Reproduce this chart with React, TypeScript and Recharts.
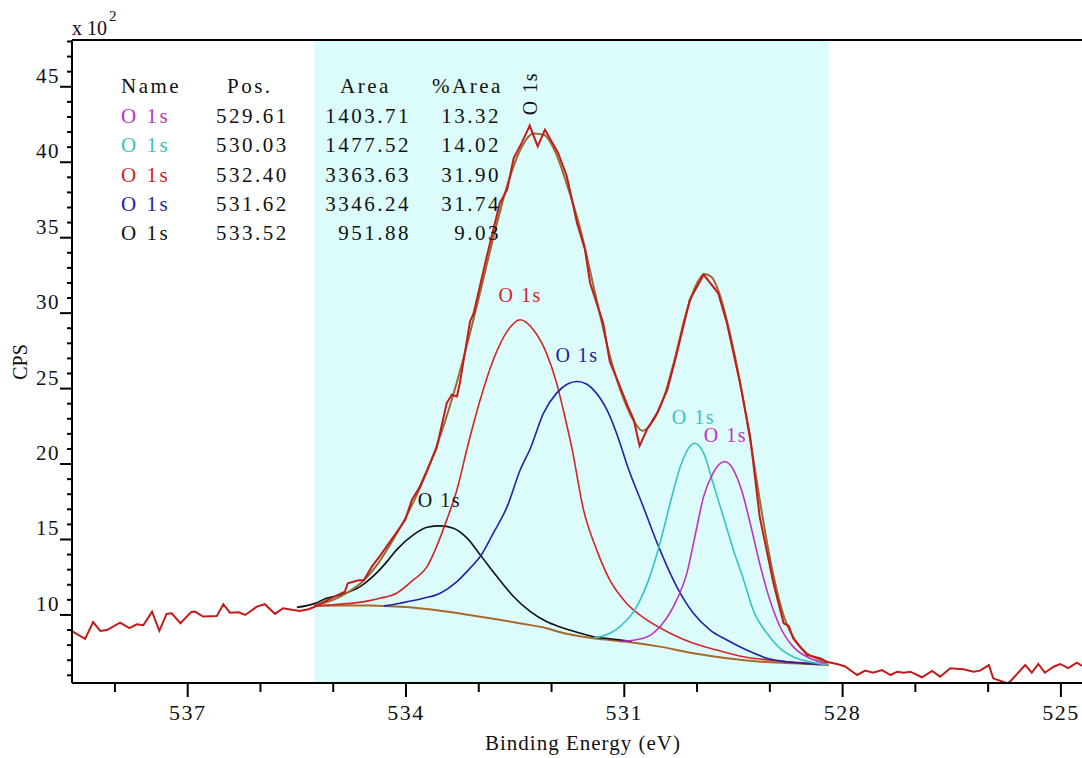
import React from 'react';
import { ComposedChart, Line, XAxis, YAxis, ReferenceArea, ReferenceLine, ReferenceDot } from 'recharts';

const FONT = "'Liberation Serif', 'Times New Roman', serif";

// Binding energy (eV) / CPS (x 10^2) pairs
const rawSpectrum: [number, number][] = [
  [538.58, 8.89], [538.41, 8.41], [538.30, 9.52], [538.20, 8.94], [538.11, 9.0], [537.93, 9.49],
  [537.80, 9.12], [537.70, 9.38], [537.61, 9.32], [537.49, 10.22], [537.39, 8.94], [537.29, 10.07],
  [537.22, 10.11], [537.10, 9.45], [536.95, 10.2], [536.90, 10.22], [536.79, 9.89], [536.60, 9.93],
  [536.51, 10.71], [536.42, 10.15], [536.30, 10.18], [536.21, 10.0], [536.05, 10.55], [535.94, 10.71],
  [535.80, 10.07], [535.69, 10.44], [535.55, 10.33], [535.46, 10.27], [535.34, 10.38], [535.27, 10.51],
  [535.03, 11.1], [534.84, 11.55], [534.80, 12.1], [534.65, 12.3], [534.58, 12.3], [534.47, 13.2],
  [534.36, 13.9], [534.17, 15.19], [534.01, 16.3], [533.92, 17.63], [533.81, 18.5], [533.71, 19.6],
  [533.58, 21.05], [533.44, 24.04], [533.37, 24.59], [533.30, 24.48], [533.26, 25.36], [533.12, 29.45],
  [533.07, 30.0], [532.89, 33.76], [532.71, 37.3], [532.66, 37.74], [532.61, 38.18], [532.52, 40.28],
  [532.41, 41.28], [532.30, 42.43], [532.19, 41.05], [532.09, 42.16], [531.91, 40.62], [531.79, 39.07],
  [531.65, 35.97], [531.54, 34.2], [531.47, 32.0], [531.29, 29.34], [531.20, 26.8], [531.06, 25.14],
  [530.97, 24.04], [530.87, 22.93], [530.79, 21.2], [530.69, 22.27], [530.55, 23.38], [530.41, 24.92],
  [530.30, 26.91], [530.10, 30.89], [529.91, 32.55], [529.71, 31.33], [529.59, 29.34], [529.41, 25.36],
  [529.27, 21.82], [529.14, 16.52], [528.95, 12.1], [528.81, 9.45], [528.74, 9.27], [528.68, 8.45],
  [528.49, 7.35], [528.31, 7.13], [528.22, 6.9], [528.08, 6.75], [527.97, 6.6], [527.80, 6.02],
  [527.69, 6.31], [527.58, 6.17], [527.46, 6.35], [527.34, 6.02], [527.25, 6.24], [527.16, 6.17],
  [527.07, 6.24], [526.91, 5.87], [526.77, 6.29], [526.66, 5.91], [526.52, 6.47], [526.34, 6.4],
  [526.20, 6.24], [526.11, 6.31], [525.99, 6.68], [525.93, 5.8], [525.74, 5.47], [525.70, 5.58],
  [525.49, 6.68], [525.40, 6.17], [525.31, 6.75], [525.22, 6.17], [525.10, 6.57], [525.01, 6.75],
  [524.90, 6.47], [524.78, 6.84], [524.71, 6.62],
];

const envelopeFit: [number, number][] = [
  [535.26, 10.65], [535.0, 11.0], [534.8, 11.5], [534.6, 12.2], [534.4, 13.3], [534.2, 14.8],
  [534.0, 16.5], [533.8, 18.5], [533.6, 20.9], [533.4, 23.8], [533.2, 27.2], [533.0, 31.0],
  [532.8, 35.0], [532.6, 38.6], [532.4, 41.1], [532.25, 41.9], [532.1, 41.8], [531.95, 40.7],
  [531.8, 38.7], [531.6, 35.5], [531.4, 31.3], [531.2, 27.2], [531.0, 24.2], [530.85, 22.7],
  [530.75, 22.2], [530.6, 22.9], [530.45, 24.5], [530.3, 27.1], [530.15, 30.0], [530.0, 32.0],
  [529.9, 32.6], [529.8, 32.4], [529.7, 31.4], [529.55, 28.7], [529.4, 25.2], [529.25, 21.0],
  [529.1, 16.5], [528.95, 12.6], [528.8, 9.8], [528.65, 8.3], [528.5, 7.5], [528.35, 7.1], [528.19, 6.85],
];

const backgroundFit: [number, number][] = [
  [535.26, 10.6], [534.9, 10.62], [534.5, 10.62], [534.3, 10.6], [534.0, 10.52], [533.6, 10.32],
  [533.2, 10.05], [532.8, 9.75], [532.4, 9.42], [532.07, 9.12], [531.88, 8.85], [531.42, 8.45],
  [530.97, 8.23], [530.51, 7.9], [530.05, 7.46], [529.59, 7.13], [529.13, 6.9], [528.68, 6.8], [528.19, 6.68],
];

const peakBlack: [number, number][] = [
  [535.5, 10.5], [535.26, 10.75], [535.09, 11.1], [534.91, 11.33], [534.63, 11.88], [534.40, 12.8],
  [534.25, 13.6], [534.13, 14.31], [533.90, 15.3], [533.71, 15.81], [533.53, 15.9], [533.35, 15.75],
  [533.16, 15.09], [532.98, 13.98], [532.75, 12.54], [532.52, 11.21], [532.29, 10.22], [532.07, 9.56],
  [531.88, 9.2], [531.65, 8.85], [531.42, 8.56], [531.2, 8.42], [530.9, 8.26],
];

const peakRed: [number, number][] = [
  [535.26, 10.62], [535.0, 10.68], [534.7, 10.8], [534.5, 10.95], [534.36, 11.1], [534.13, 11.44],
  [533.90, 12.32], [533.71, 13.2], [533.58, 14.53], [533.44, 16.3], [533.30, 18.29], [533.16, 21.05],
  [532.98, 24.26], [532.80, 26.91], [532.61, 28.79], [532.43, 29.56], [532.25, 28.9], [532.07, 27.35],
  [531.93, 25.36], [531.82, 23.2], [531.72, 21.05], [531.56, 16.96], [531.38, 14.31], [531.20, 12.32],
  [530.97, 10.78], [530.69, 9.67], [530.37, 8.79], [530.05, 8.12], [529.73, 7.68], [529.36, 7.23],
  [529.0, 7.0], [528.6, 6.85], [528.2, 6.72],
];

const peakBlue: [number, number][] = [
  [534.30, 10.6], [534.08, 10.78], [533.76, 11.1], [533.53, 11.44], [533.30, 12.21], [533.12, 13.1],
  [532.98, 13.87], [532.80, 15.42], [532.61, 17.18], [532.43, 19.62], [532.29, 21.05], [532.11, 23.38],
  [531.93, 24.7], [531.78, 25.3], [531.65, 25.47], [531.52, 25.3], [531.42, 24.9], [531.24, 23.6],
  [531.06, 21.4], [530.97, 20.06], [530.74, 17.18], [530.51, 14.31], [530.28, 11.88], [530.05, 10.11],
  [529.82, 9.0], [529.59, 8.34], [529.32, 7.68], [529.04, 7.13], [528.68, 6.85], [528.3, 6.72],
];

const peakCyan: [number, number][] = [
  [531.42, 8.5], [531.33, 8.56], [531.06, 9.22], [530.83, 10.55], [530.65, 12.54], [530.51, 14.75],
  [530.37, 17.4], [530.23, 19.83], [530.10, 21.16], [530.03, 21.38], [529.91, 20.72], [529.78, 18.73],
  [529.64, 16.52], [529.50, 14.31], [529.36, 12.32], [529.23, 10.33], [529.04, 8.79], [528.86, 7.79],
  [528.68, 7.23], [528.40, 6.84], [528.2, 6.72],
];

const peakMagenta: [number, number][] = [
  [531.06, 8.23], [530.74, 8.45], [530.51, 9.22], [530.28, 11.0], [530.14, 12.77], [530.03, 15.19],
  [529.91, 17.84], [529.78, 19.4], [529.62, 20.17], [529.50, 19.62], [529.39, 18.29], [529.27, 16.08],
  [529.14, 13.43], [529.00, 11.0], [528.86, 9.22], [528.68, 7.9], [528.45, 7.13], [528.22, 6.8],
];

// Peak table
const peakNames = ['O 1s', 'O 1s', 'O 1s', 'O 1s', 'O 1s'];
const peakPositions = ['529.61', '530.03', '532.40', '531.62', '533.52'];
const peakAreas = ['1403.71', '1477.52', '3363.63', '3346.24', '951.88'];
const peakPercents = ['13.32', '14.02', '31.90', '31.74', '9.03'];

// Peak label anchors (binding energy, CPS)
const labelBE = [529.61, 530.05, 532.43, 531.65, 533.54];
const labelCPS = [21.9, 23.1, 31.2, 27.2, 17.6];
const topLabel: [number, number] = [532.3, 44.55];

const xTicks = [525, 526, 527, 528, 529, 530, 531, 532, 533, 534, 535, 536, 537, 538];
const xTickLabels = [537, 534, 531, 528, 525];
const yTicks = [6, 7, 8, 9, 10, 11, 12, 13, 14, 15, 16, 17, 18, 19, 20, 21, 22, 23, 24, 25, 26, 27,
  28, 29, 30, 31, 32, 33, 34, 35, 36, 37, 38, 39, 40, 41, 42, 43, 44, 45, 46, 47, 48];
const yTickLabels = [10, 15, 20, 25, 30, 35, 40, 45];

const xDomain: [number, number] = [524.71, 538.59];
const yDomain: [number, number] = [5.49, 48.1];
const fitRegion: [number, number] = [535.26, 528.19];

const C_MAGENTA = '#c033c0';
const C_CYAN = '#36c3c3';
const C_RED = '#d42424';
const C_BLUE = '#2222a8';
const C_BLACK = '#111111';
const peakColors = [C_MAGENTA, C_CYAN, C_RED, C_BLUE, C_BLACK];

const pts = (arr: [number, number][]) => arr.map(([be, cps]) => ({ be, cps }));

const XTick = (props: any) => {
  const { x, y, payload } = props;
  const major = xTickLabels.includes(payload.value);
  return (
    <g>
      <line x1={x} x2={x} y1={y} y2={y + (major ? 14 : 9)} stroke="#000" strokeWidth={2} />
      {major && (
        <text x={x} y={y + 37} textAnchor="middle" fontSize={22} fontFamily={FONT} letterSpacing={1.5} fill="#111">
          {payload.value}
        </text>
      )}
    </g>
  );
};

const YTick = (props: any) => {
  const { x, y, payload } = props;
  const major = yTickLabels.includes(payload.value);
  return (
    <g>
      <line x1={x - (major ? 12 : 5)} x2={x} y1={y} y2={y} stroke="#000" strokeWidth={2} />
      {major && (
        <text x={x - 12} y={y - 4} textAnchor="end" fontSize={21} fontFamily={FONT} letterSpacing={1.5} fill="#111">
          {payload.value}
        </text>
      )}
    </g>
  );
};

const makeLabel = (color: string, angle = 0) => (props: any) => {
  const vb = props.viewBox || {};
  const cx = (vb.x || 0) + (vb.width || 0) / 2;
  const cy = (vb.y || 0) + (vb.height || 0) / 2;
  return (
    <text
      x={cx}
      y={cy}
      textAnchor="middle"
      dominantBaseline="central"
      fontSize={20}
      fontFamily={FONT}
      letterSpacing={1.5}
      fill={color}
      transform={angle ? `rotate(${angle}, ${cx}, ${cy})` : undefined}
    >
      O 1s
    </text>
  );
};

export default function App() {
  const rowBaselines = [123, 152, 182, 211, 240];
  return (
    <div style={{ position: 'absolute', left: 0, top: 0, width: 1082, height: 758, overflow: 'hidden', background: '#fff' }}>
      <ComposedChart width={1082} height={758} margin={{ top: 40, right: 0, bottom: 0, left: 0 }}>
        <XAxis
          dataKey="be"
          type="number"
          domain={xDomain}
          reversed
          allowDataOverflow
          ticks={xTicks}
          interval={0}
          tick={XTick}
          tickLine={false}
          tickSize={0}
          tickMargin={0}
          height={75}
          axisLine={{ stroke: '#000', strokeWidth: 2 }}
          label={{ value: 'Binding Energy (eV)', position: 'insideBottom', offset: 8, dx: 6, fontSize: 21, fontFamily: FONT, fill: '#111', letterSpacing: 1 }}
        />
        <YAxis
          dataKey="cps"
          type="number"
          domain={yDomain}
          allowDataOverflow
          ticks={yTicks}
          interval={0}
          tick={YTick}
          tickLine={false}
          tickSize={0}
          tickMargin={0}
          width={72}
          axisLine={{ stroke: '#000', strokeWidth: 2 }}
        />
        <ReferenceArea x1={fitRegion[0]} x2={fitRegion[1]} y1={yDomain[0]} y2={yDomain[1]} fill="#dcfcfc" fillOpacity={1} stroke="none" />
        <ReferenceLine y={yDomain[1]} stroke="#000" strokeWidth={2} />
        <Line data={pts(backgroundFit)} dataKey="cps" type="monotone" stroke="#a86a2c" strokeWidth={2} dot={false} isAnimationActive={false} />
        <Line data={pts(peakBlack)} dataKey="cps" type="monotone" stroke={C_BLACK} strokeWidth={1.6} dot={false} isAnimationActive={false} />
        <Line data={pts(peakRed)} dataKey="cps" type="monotone" stroke={C_RED} strokeWidth={1.6} dot={false} isAnimationActive={false} />
        <Line data={pts(peakBlue)} dataKey="cps" type="monotone" stroke={C_BLUE} strokeWidth={1.6} dot={false} isAnimationActive={false} />
        <Line data={pts(peakCyan)} dataKey="cps" type="monotone" stroke={C_CYAN} strokeWidth={1.6} dot={false} isAnimationActive={false} />
        <Line data={pts(peakMagenta)} dataKey="cps" type="monotone" stroke={C_MAGENTA} strokeWidth={1.6} dot={false} isAnimationActive={false} />
        <Line data={pts(envelopeFit)} dataKey="cps" type="monotone" stroke="#9a6a35" strokeWidth={2} dot={false} isAnimationActive={false} />
        <Line data={pts(rawSpectrum)} dataKey="cps" type="linear" stroke="#c41a1a" strokeWidth={2} dot={false} isAnimationActive={false} />
        {labelBE.map((be, i) => (
          <ReferenceDot key={i} x={be} y={labelCPS[i]} r={1} fillOpacity={0} strokeOpacity={0} label={makeLabel(peakColors[i])} />
        ))}
        <ReferenceDot x={topLabel[0]} y={topLabel[1]} r={1} fillOpacity={0} strokeOpacity={0} label={makeLabel(C_BLACK, -90)} />
      </ComposedChart>
      <svg width={1082} height={758} style={{ position: 'absolute', left: 0, top: 0, pointerEvents: 'none' }}>
        <text x={72} y={35} fontSize={20} fontFamily={FONT} fill="#111">x 10</text>
        <text x={109} y={21} fontSize={15} fontFamily={FONT} fill="#111">2</text>
        <text x={20} y={362} fontSize={20} fontFamily={FONT} fill="#111" textAnchor="middle" dominantBaseline="central" transform="rotate(-90, 20, 362)">CPS</text>
        <g fontFamily={FONT} fontSize={21} letterSpacing={2.5} fill="#111">
          <text x={121} y={93}>Name</text>
          <text x={227} y={93}>Pos.</text>
          <text x={340} y={93}>Area</text>
          <text x={432} y={93}>%Area</text>
          {peakNames.map((n, i) => (
            <g key={i}>
              <text x={121} y={rowBaselines[i]} fill={peakColors[i]}>{n}</text>
              <text x={216} y={rowBaselines[i]}>{peakPositions[i]}</text>
              <text x={411} y={rowBaselines[i]} textAnchor="end">{peakAreas[i]}</text>
              <text x={501} y={rowBaselines[i]} textAnchor="end">{peakPercents[i]}</text>
            </g>
          ))}
        </g>
      </svg>
    </div>
  );
}
